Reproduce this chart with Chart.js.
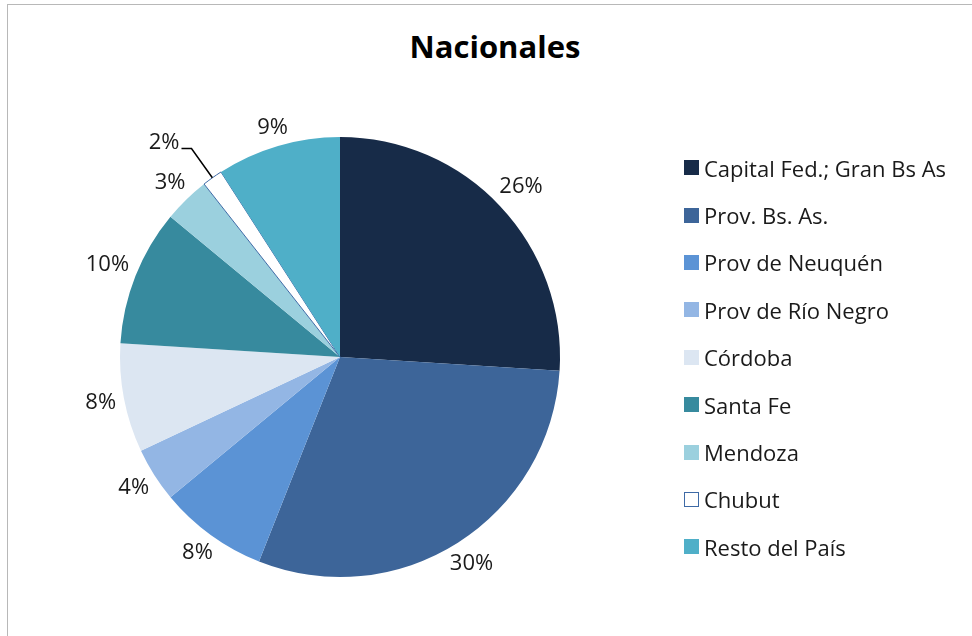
<!DOCTYPE html>
<html>
<head>
<meta charset="utf-8">
<script src="https://cdn.jsdelivr.net/npm/chart.js@4"></script>
<style>
  body{margin:0;background:#fff;font-family:"Open Sans",sans-serif;}
  #marco{position:absolute;left:7px;top:4px;width:1000px;height:700px;border-left:1.5px solid #b8b8b8;border-top:1.5px solid #b8b8b8;}
  #titulo{position:absolute;left:395px;width:200px;top:24px;text-align:center;font-weight:bold;font-size:31px;color:#000;line-height:44px;}
  #grafico{position:absolute;left:0;top:0;}
  #leyenda{position:absolute;left:684px;top:144px;margin:0;padding:0;list-style:none;}
  #leyenda li{height:47.4px;display:flex;align-items:center;font-size:22px;color:#1a1a1a;}
  #leyenda span.caja{width:15px;height:15px;margin-right:5px;box-sizing:border-box;flex:none;}
</style>
</head>
<body>
<div id="marco"></div>
<div id="titulo">Nacionales</div>
<canvas id="grafico" width="972" height="636"></canvas>
<ul id="leyenda"></ul>
<script>
// ===== DATOS =====
const regiones = ["Capital Fed.; Gran Bs As","Prov. Bs. As.","Prov de Neuquén","Prov de Río Negro","Córdoba","Santa Fe","Mendoza","Chubut","Resto del País"];
const porcentajes = [26, 30, 8, 4, 8, 10, 3.4, 1.5, 9.1];
const colores = ["#172b48","#3d6599","#5b93d5","#93b6e4","#dce6f2","#378a9e","#9bd0de","#ffffff","#4fafc8"];
const bordes = ["#172b48","#3d6599","#5b93d5","#93b6e4","#dce6f2","#378a9e","#9bd0de","#3e6aa6","#4fafc8"];
const anchoBorde = [0,0,0,0,0,0,0,1,0];

// ===== ETIQUETAS =====
const etiquetas = {
  id: "etiquetas",
  afterDatasetsDraw(chart){
    const ctx = chart.ctx;
    const meta = chart.getDatasetMeta(0);
    const total = porcentajes.reduce((s,v)=>s+v,0);
    ctx.save();
    ctx.font = "22px 'Open Sans'";
    ctx.fillStyle = "#1a1a1a";
    ctx.textBaseline = "middle";
    meta.data.forEach((arc,i)=>{
      const p = arc.getProps(["x","y","startAngle","endAngle","outerRadius"], true);
      const medio = (p.startAngle+p.endAngle)/2;
      const cos = Math.cos(medio), sin = Math.sin(medio);
      const txt = Math.round(porcentajes[i]/total*100)+"%";
      const w = ctx.measureText(txt).width, h = 16;
      if(porcentajes[i] < 2){
        // etiqueta con línea guía
        const x0 = p.x + cos*p.outerRadius, y0 = p.y + sin*p.outerRadius;
        const x1 = p.x + cos*(p.outerRadius+36), y1 = p.y + sin*(p.outerRadius+36);
        ctx.strokeStyle = "#000";
        ctx.lineWidth = 1.5;
        ctx.beginPath();
        ctx.moveTo(x0,y0); ctx.lineTo(x1,y1); ctx.lineTo(x1-10,y1);
        ctx.stroke();
        ctx.textAlign = "right";
        ctx.fillText(txt, x1-12, y1-6);
        return;
      }
      const d = p.outerRadius + 7 + Math.abs(cos)*w/2 + Math.abs(sin)*h/2;
      ctx.textAlign = "center";
      ctx.fillText(txt, p.x + cos*d, p.y + sin*d);
    });
    ctx.restore();
  }
};

new Chart(document.getElementById("grafico"), {
  type: "pie",
  data: { labels: regiones, datasets: [{ data: porcentajes, backgroundColor: colores, borderColor: bordes, borderWidth: anchoBorde, radius: 220, hoverOffset: 0 }] },
  options: {
    responsive: false,
    animation: false,
    layout: { padding: { left: 120, top: 137, right: 412, bottom: 59 } },
    plugins: { legend: { display: false }, tooltip: { enabled: false }, title: { display: false } }
  },
  plugins: [etiquetas]
});

// ===== LEYENDA =====
const ul = document.getElementById("leyenda");
regiones.forEach((r,i)=>{
  const li = document.createElement("li");
  const caja = document.createElement("span");
  caja.className = "caja";
  caja.style.background = colores[i];
  if(anchoBorde[i]) caja.style.border = "1.5px solid " + bordes[i];
  li.appendChild(caja);
  li.appendChild(document.createTextNode(r));
  ul.appendChild(li);
});
</script>
</body>
</html>
